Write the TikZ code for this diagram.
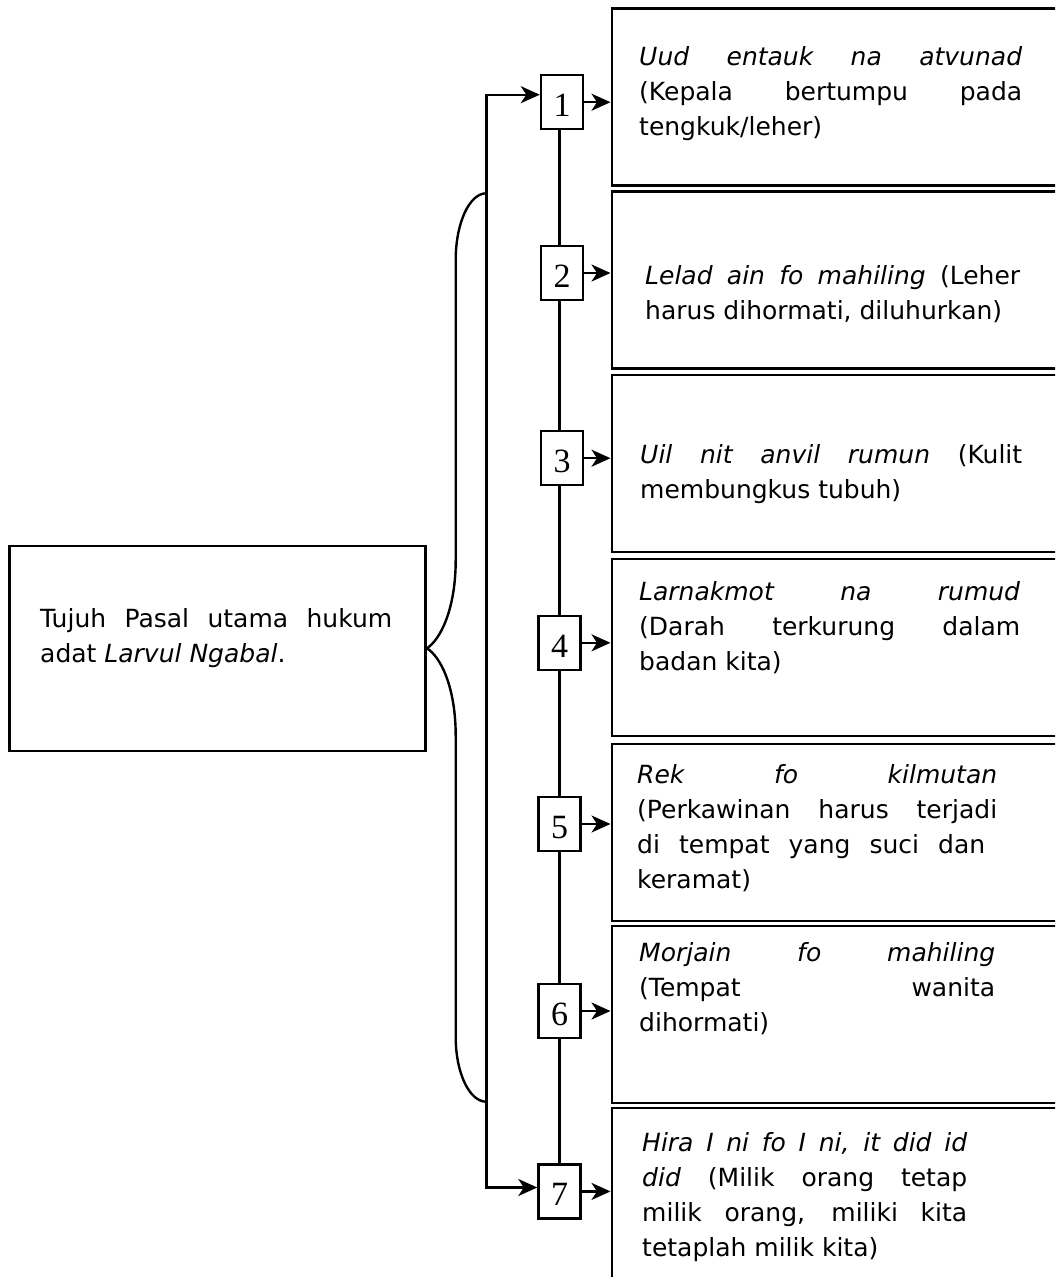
\documentclass[tikz,border=0pt]{standalone}
\usepackage{fontspec}
\setmainfont{DejaVu Sans}
\newfontfamily\numfont{Liberation Serif}
\usetikzlibrary{arrows.meta,calc}

% one justified line of a paragraph, spread to the given width
\newcommand\jline[2][\linewidth]{\makebox[#1][s]{#2}\\}
\newcommand\bodysize{\fontsize{25}{35}\selectfont}

\tikzset{
  stroke/.style={line width=2.4pt, draw=black},
  head/.tip={Stealth[length=19pt,width=17pt,inset=5.5pt]},
  tip/.style={-head},
  sidebox/.style={draw, line width=2.4pt, inner sep=0pt, anchor=north west,
                  minimum width=480pt},
  numbox/.style={draw, line width=2.4pt, inner sep=0pt, minimum width=42pt,
                 minimum height=54pt, font=\numfont\fontsize{34}{34}\selectfont,
                 text height=29pt, text depth=0pt},
  para/.style={inner sep=0pt, anchor=base west},
}

\begin{document}
\begin{tikzpicture}[x=1pt,y=-1pt]
\useasboundingbox (0,0) rectangle (1055,1277);
\clip (0,0) rectangle (1055,1277);

% source box on the left
\node[draw, line width=2.4pt, inner sep=0pt, minimum width=416pt,
      minimum height=205pt] (src) at (217.6,648.3) {};
\node[para] (srctext) at (40,627.5) {\parbox[t]{352pt}{\bodysize
  \jline{Tujuh Pasal utama hukum}
  adat \textit{Larvul Ngabal}.}};

% the seven article boxes on the right
\node[sidebox, minimum height=177pt] (rb1) at (610.5,7.3) {};
\node[sidebox, minimum height=177pt] (rb2) at (610.5,190.3) {};
\node[sidebox, minimum height=177pt] (rb3) at (610.5,374) {};
\node[sidebox, minimum height=177pt] (rb4) at (610.5,557.5) {};
\node[sidebox, minimum height=177pt] (rb5) at (610.5,742.5) {};
\node[sidebox, minimum height=177pt] (rb6) at (610.5,924.5) {};
\node[sidebox, minimum height=220pt] (rb7) at (610.5,1106.7) {};

\node[para] (t1) at (639,65) {\parbox[t]{383pt}{\bodysize
  \jline{\textit{Uud entauk na atvunad}}
  \jline{(Kepala bertumpu pada}
  tengkuk/leher)}};
\node[para] (t2) at (645,284.5) {\parbox[t]{375pt}{\bodysize
  \jline{\textit{Lelad ain fo mahiling} (Leher}
  harus dihormati, diluhurkan)}};
\node[para] (t3) at (640,463) {\parbox[t]{382pt}{\bodysize
  \jline{\textit{Uil nit anvil rumun} (Kulit}
  membungkus tubuh)}};
\node[para] (t4) at (639,600) {\parbox[t]{381pt}{\bodysize
  \jline{\textit{Larnakmot na rumud}}
  \jline{(Darah terkurung dalam}
  badan kita)}};
\node[para] (t5) at (637,783.3) {\parbox[t]{360pt}{\bodysize
  \jline{\textit{Rek fo kilmutan}}
  \jline{(Perkawinan harus terjadi}
  \jline[348pt]{di tempat yang suci dan}
  keramat)}};
\node[para] (t6) at (639,961) {\parbox[t]{356pt}{\bodysize
  \jline{\textit{Morjain fo mahiling}}
  \jline{(Tempat wanita}
  dihormati)}};
\node[para] (t7) at (642,1151.5) {\parbox[t]{325pt}{\bodysize
  \jline{\textit{Hira I ni fo I ni, it did id}}
  \jline{\textit{did} (Milik orang tetap}
  \jline{milik orang, miliki kita}
  tetaplah milik kita)}};

% numbered boxes
\node[numbox] (n1) at (562,102.2) {1};
\node[numbox] (n2) at (562,273) {2};
\node[numbox] (n3) at (562,458.2) {3};
\node[numbox] (n4) at (559.5,642.8) {4};
\node[numbox] (n5) at (559.5,824) {5};
\node[numbox] (n6) at (559.5,1011) {6};
\node[numbox] (n7) at (559.5,1191.4) {7};

% spine joining the numbered boxes
\coordinate (spine) at (559.3,0);
\foreach \a/\b in {1/2,2/3,3/4,4/5,5/6,6/7}
  \draw[stroke] (n\a.south -| spine) -- (n\b.north -| spine);

% arrows from each number to its article
\foreach \i in {1,...,7}
  \draw[stroke,tip] (n\i.east) -- (n\i.east -| rb\i.west);

% trunk feeding the first and last numbers
\coordinate (tt) at (486.3,94.7);
\coordinate (tb) at (486.3,1187.5);
\draw[stroke,head-head]
  (tt -| n1.west) -- (tt) -- (tb) -- (tb -| n7.west);

% curly brace from the source box to the trunk
\coordinate (bt) at (486.3,193.3);
\coordinate (bb) at (486.3,1101.7);
\draw[stroke, line join=round]
  (bt) .. controls (469.4,193.3) and (455.7,223) .. (455.7,260)
  -- (455.7,560) .. controls (455.7,610) and (440,640) .. (src.east)
  .. controls (440,656) and (455.7,686) .. (455.7,736)
  -- (455.7,1037) .. controls (455.7,1073) and (469.4,1101.7) .. (bb);
\end{tikzpicture}
\end{document}
